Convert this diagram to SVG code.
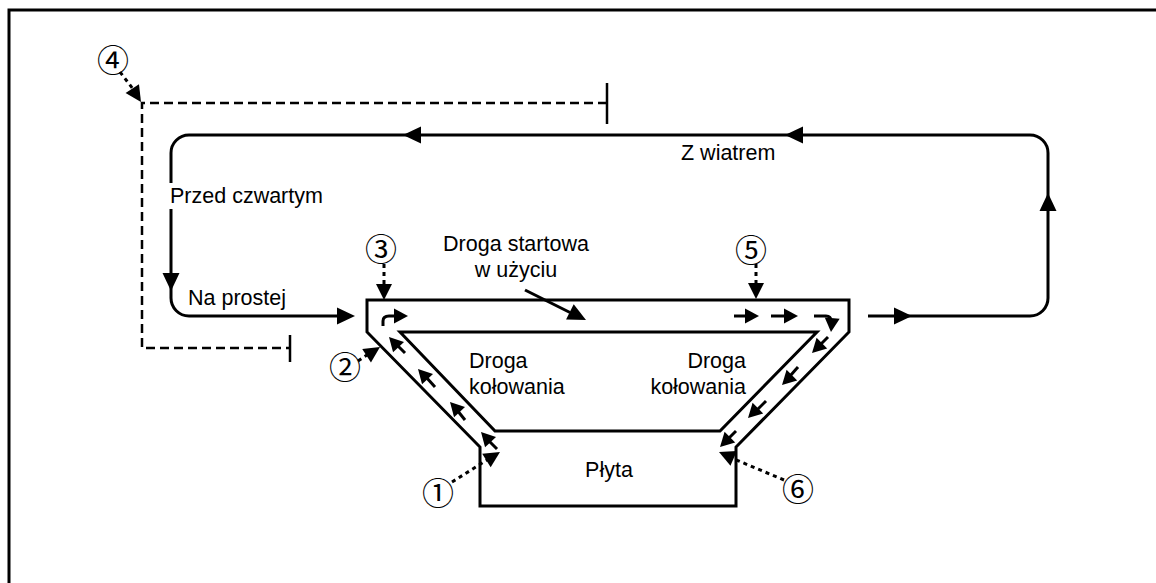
<svg xmlns="http://www.w3.org/2000/svg" xmlns:xlink="http://www.w3.org/1999/xlink" width="1156" height="583" viewBox="0 0 1156 583">
<style>
.frame{fill:none;stroke:#000;stroke-width:3}
.ln{fill:none;stroke:#000;stroke-width:3;stroke-linejoin:miter}
.dash{fill:none;stroke:#000;stroke-width:2.5;stroke-dasharray:9 5}
.tick{fill:none;stroke:#000;stroke-width:2.5}
.dot{fill:none;stroke:#000;stroke-width:3;stroke-dasharray:4 4}
.sm{fill:none;stroke:#000;stroke-width:3}
.lbl{font-family:"Liberation Sans",Arial,sans-serif;font-size:21.5px;fill:#000}
.num{font-family:"Noto Sans CJK JP","DejaVu Sans",sans-serif;font-size:32px;font-weight:400;fill:#000;text-anchor:middle}
</style>
<defs>
<path id="ah" d="M0,0 L-18,-8.5 L-18,8.5 Z"/>
<path id="sah" d="M0,0 L-14,-7.5 L-14,7.5 Z"/>
<path id="dah" d="M0,0 L-16,-8 L-16,8 Z"/>
</defs>
<rect width="1156" height="583" fill="#fff"/>
<path class="frame" d="M9,583 V10 H1156"/>

<g id="airfield">
<path class="ln" d="M367,300 H849 V332 L736,447 V506 H480 V447 L367,332 Z"/>
<path class="ln" d="M400,332 H817 L720,431 H495 Z"/>
</g>

<g id="labels">
<text class="lbl" x="681" y="160">Z wiatrem</text>
<text class="lbl" x="170" y="203">Przed czwartym</text>
<text class="lbl" x="188" y="305">Na prostej</text>
<text class="lbl" x="516" y="251" text-anchor="middle">Droga startowa</text>
<text class="lbl" x="516" y="277" text-anchor="middle">w użyciu</text>
<text class="lbl" x="469" y="368">Droga</text>
<text class="lbl" x="469" y="394">kołowania</text>
<text class="lbl" x="746" y="368" text-anchor="end">Droga</text>
<text class="lbl" x="746" y="394" text-anchor="end">kołowania</text>
<text class="lbl" x="609" y="477" text-anchor="middle">Płyta</text>
</g>

<g id="numbers">
<text class="num" x="113" y="72">④</text>
<text class="num" x="381" y="261">③</text>
<text class="num" x="345" y="379">②</text>
<text class="num" x="438" y="505">①</text>
<text class="num" x="751" y="262">⑤</text>
<text class="num" x="798" y="501">⑥</text>
</g>

<g id="connectors">
<path class="ln" d="M868,316 H1030 A18,18 0 0 0 1048,298 V153 A18,18 0 0 0 1030,135 H189 A18,18 0 0 0 171,153 V183"/>
<path class="ln" d="M171,209 V298 A18,18 0 0 0 189,316 H340"/>
<use xlink:href="#ah" transform="translate(912,316)"/>
<use xlink:href="#ah" transform="translate(1048,193) rotate(-90)"/>
<use xlink:href="#ah" transform="translate(785,135) rotate(180)"/>
<use xlink:href="#ah" transform="translate(403,135) rotate(180)"/>
<use xlink:href="#ah" transform="translate(171,291) rotate(90)"/>
<use xlink:href="#ah" transform="translate(355,316)"/>

<path class="dash" d="M607,103 H142 V348 H290"/>
<path class="tick" d="M607,83 V124 M290,335 V362"/>

<path class="ln" d="M525,290 L570,312.5"/>
<use xlink:href="#ah" transform="translate(586,320) rotate(26.6)"/>

<path class="sm" d="M383,326 V321 Q383,316 389,316 H395"/>
<use xlink:href="#sah" transform="translate(408,316)"/>
<path class="sm" d="M405,353 L396,344"/>
<use xlink:href="#sah" transform="translate(389,337) rotate(-133)"/>
<path class="sm" d="M435,387 L426,377"/>
<use xlink:href="#sah" transform="translate(418,369) rotate(-133)"/>
<path class="sm" d="M465,420 L457,410"/>
<use xlink:href="#sah" transform="translate(450,402) rotate(-133)"/>
<path class="sm" d="M497,449 L488,440"/>
<use xlink:href="#sah" transform="translate(481,432) rotate(-133)"/>

<path class="sm" d="M734,316 H746"/>
<use xlink:href="#sah" transform="translate(759,316)"/>
<path class="sm" d="M771,316 H785"/>
<use xlink:href="#sah" transform="translate(798,316)"/>
<path class="sm" d="M814,316 H826 Q831,316 831,321"/>
<use xlink:href="#sah" transform="translate(831,332) rotate(95)"/>
<path class="sm" d="M828,337 L820,345"/>
<use xlink:href="#sah" transform="translate(812,353) rotate(135)"/>
<path class="sm" d="M798,367 L790,376"/>
<use xlink:href="#sah" transform="translate(782,385) rotate(135)"/>
<path class="sm" d="M766,401 L757,410"/>
<use xlink:href="#sah" transform="translate(748,418) rotate(135)"/>
<path class="sm" d="M736,431 L728,439"/>
<use xlink:href="#sah" transform="translate(720,447) rotate(135)"/>

<path class="dot" d="M120,72 L133,89"/>
<use xlink:href="#dah" transform="translate(141,102) rotate(57)"/>
<path class="dot" d="M384,264 V285"/>
<use xlink:href="#dah" transform="translate(384,300) rotate(90)"/>
<path class="dot" d="M756,264 V284"/>
<use xlink:href="#dah" transform="translate(756,299) rotate(90)"/>
<path class="dot" d="M358,361 L367,355"/>
<use xlink:href="#dah" transform="translate(380,347) rotate(-33)"/>
<path class="dot" d="M452,482 L487,460"/>
<use xlink:href="#dah" transform="translate(500,452) rotate(-32)"/>
<path class="dot" d="M784,480 L734,459"/>
<use xlink:href="#dah" transform="translate(719,452) rotate(203.6)"/>
</g>
</svg>
